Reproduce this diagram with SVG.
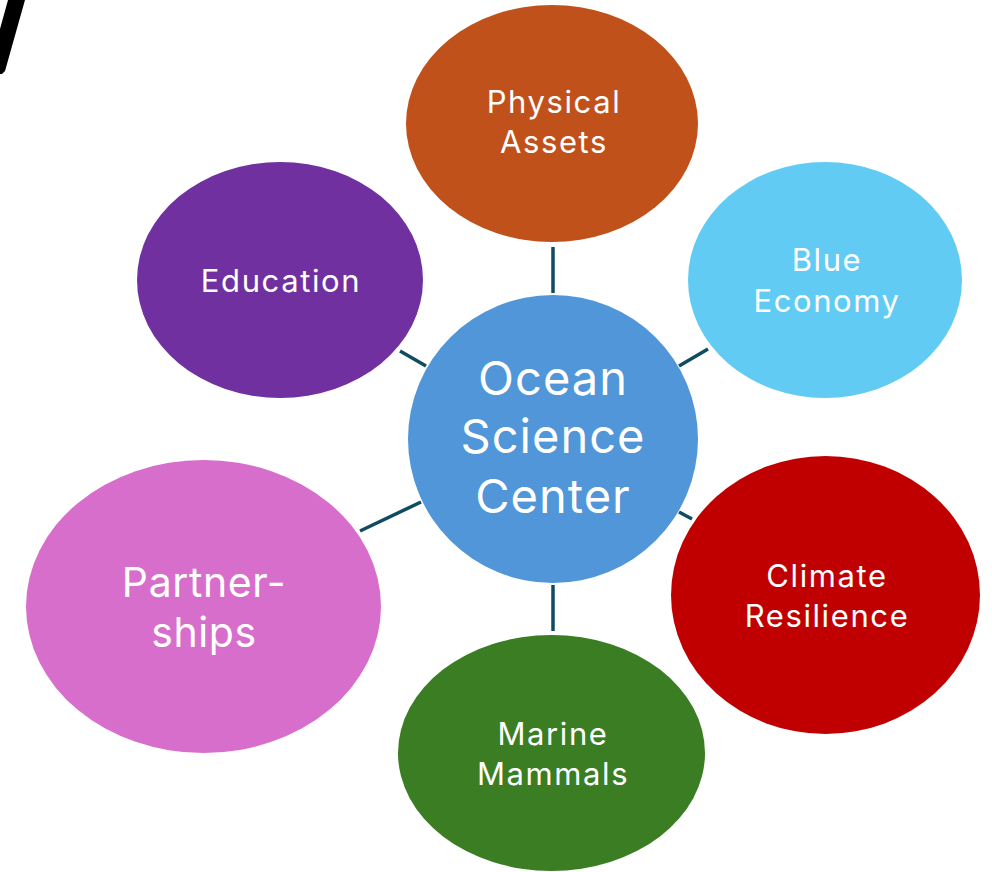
<svg xmlns="http://www.w3.org/2000/svg" width="992" height="872" viewBox="0 0 992 872">
<style>
  text { font-family: Inter, "Noto Sans", "Liberation Sans", sans-serif; fill: #ffffff; text-anchor: middle; }
  .s { font-size: 31px; letter-spacing: 1.6px; }
  .m { font-size: 41px; letter-spacing: 0.6px; }
  .l { font-size: 47px; letter-spacing: 1px; }
  .conn line { stroke: #0F4C61; stroke-width: 3.5; }
</style>
<rect width="992" height="872" fill="#ffffff"/>
<polygon points="8,0 25,0 5,71 2,74 0,74 0,29" fill="#000000"/>
<g id="connectors" class="conn">
  <line x1="553" y1="247" x2="553" y2="293"/>
  <line x1="553" y1="585" x2="553" y2="631"/>
  <line x1="400" y1="351" x2="426" y2="366"/>
  <line x1="679" y1="366" x2="708" y2="349"/>
  <line x1="360" y1="531" x2="421" y2="502"/>
  <line x1="679" y1="512" x2="692" y2="519"/>
</g>
<g id="physical-assets">
  <ellipse cx="552" cy="123.5" rx="146" ry="118.5" fill="#C1511A"/>
  <text class="s" x="554" y="113">Physical</text>
  <text class="s" x="554" y="153">Assets</text>
</g>
<g id="education">
  <ellipse cx="280" cy="280" rx="143" ry="118" fill="#7030A0"/>
  <text class="s" x="281" y="292">Education</text>
</g>
<g id="blue-economy">
  <ellipse cx="825" cy="280" rx="137" ry="118" fill="#61CBF3"/>
  <text class="s" x="827" y="271">Blue</text>
  <text class="s" x="827" y="312">Economy</text>
</g>
<g id="ocean-science-center">
  <ellipse cx="553" cy="439" rx="145" ry="144" fill="#5096D8"/>
  <text class="l" x="553" y="395">Ocean</text>
  <text class="l" x="553" y="453">Science</text>
  <text class="l" x="553" y="513">Center</text>
</g>
<g id="partnerships">
  <ellipse cx="203.5" cy="606.5" rx="177.5" ry="146.5" fill="#D86ECC"/>
  <text class="m" x="204" y="597">Partner-</text>
  <text class="m" x="204" y="647">ships</text>
</g>
<g id="climate-resilience">
  <ellipse cx="825.5" cy="595" rx="154.5" ry="139" fill="#C00000"/>
  <text class="s" x="827" y="587">Climate</text>
  <text class="s" x="827" y="627">Resilience</text>
</g>
<g id="marine-mammals">
  <ellipse cx="551.5" cy="753" rx="153.5" ry="118" fill="#3B7D23"/>
  <text class="s" x="553" y="745">Marine</text>
  <text class="s" x="553" y="785">Mammals</text>
</g>
</svg>
